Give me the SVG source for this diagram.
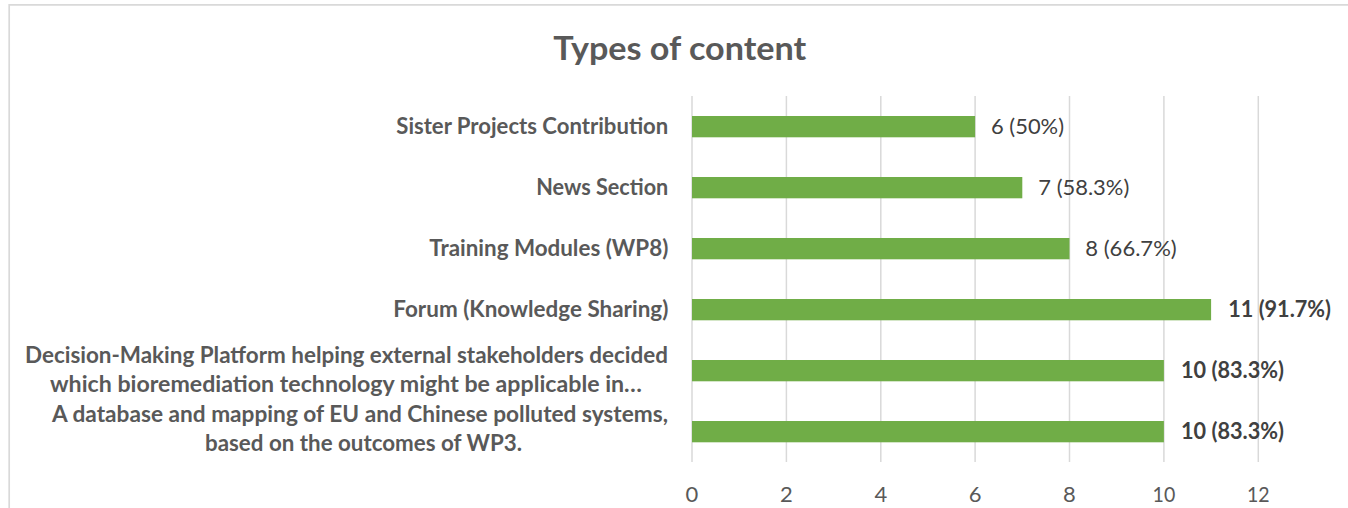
<svg xmlns="http://www.w3.org/2000/svg" width="1348" height="508" viewBox="0 0 1348 508">
  <style>
    .title { font-family: Lato, "Open Sans", "Liberation Sans", sans-serif; font-weight: bold; font-size: 32.5px; fill: #595959; }
    .cat { font-family: Lato, "Open Sans", "Liberation Sans", sans-serif; font-weight: bold; font-size: 22px; fill: #595959; }
    .val { font-family: Lato, "Open Sans", "Liberation Sans", sans-serif; font-size: 22px; fill: #404040; }
    .valb { font-family: Lato, "Open Sans", "Liberation Sans", sans-serif; font-weight: bold; font-size: 22px; fill: #404040; }
    .tick { font-family: Lato, "Open Sans", "Liberation Sans", sans-serif; font-size: 22px; fill: #595959; text-anchor: middle; }
    .grid { stroke: #d9d9d9; stroke-width: 1.5; }
    .bar { fill: #70ad47; }
  </style>
  <rect x="0" y="0" width="1348" height="508" fill="#ffffff"/>
  <path d="M9.2 508 V4.8 H1348" fill="none" stroke="#d9d9d9" stroke-width="1.7"/>

  <text class="title" x="553.3" y="60" textLength="253" lengthAdjust="spacingAndGlyphs">Types of content</text>

  <g id="gridlines">
    <line class="grid" x1="692" y1="96" x2="692" y2="462"/>
    <line class="grid" x1="786.4" y1="96" x2="786.4" y2="462"/>
    <line class="grid" x1="880.8" y1="96" x2="880.8" y2="462"/>
    <line class="grid" x1="975.1" y1="96" x2="975.1" y2="462"/>
    <line class="grid" x1="1069.5" y1="96" x2="1069.5" y2="462"/>
    <line class="grid" x1="1163.9" y1="96" x2="1163.9" y2="462"/>
    <line class="grid" x1="1258.3" y1="96" x2="1258.3" y2="462"/>
  </g>

  <g id="axis-labels">
    <text class="tick" x="692" y="501.7">0</text>
    <text class="tick" x="786.4" y="501.7">2</text>
    <text class="tick" x="880.8" y="501.7">4</text>
    <text class="tick" x="975.1" y="501.7">6</text>
    <text class="tick" x="1069.5" y="501.7">8</text>
    <text class="tick" x="1163.9" y="501.7" textLength="22.7" lengthAdjust="spacingAndGlyphs">10</text>
    <text class="tick" x="1258.3" y="501.7" textLength="22.7" lengthAdjust="spacingAndGlyphs">12</text>
  </g>

  <g id="sister-projects">
    <text class="cat" x="668.3" y="134.3" text-anchor="end" textLength="272" lengthAdjust="spacingAndGlyphs">Sister Projects Contribution</text>
    <rect class="bar" x="692" y="116" width="283.1" height="21.3"/>
    <text class="val" x="991" y="134.3" textLength="73" lengthAdjust="spacingAndGlyphs">6 (50%)</text>
  </g>

  <g id="news-section">
    <text class="cat" x="668.3" y="195.3" text-anchor="end" textLength="132" lengthAdjust="spacingAndGlyphs">News Section</text>
    <rect class="bar" x="692" y="177" width="330.3" height="21.3"/>
    <text class="val" x="1038.3" y="195.3" textLength="91" lengthAdjust="spacingAndGlyphs">7 (58.3%)</text>
  </g>

  <g id="training-modules">
    <text class="cat" x="668.3" y="256.3" text-anchor="end" textLength="239" lengthAdjust="spacingAndGlyphs">Training Modules (WP8)</text>
    <rect class="bar" x="692" y="238" width="377.5" height="21.3"/>
    <text class="val" x="1085.3" y="256.3" textLength="91.4" lengthAdjust="spacingAndGlyphs">8 (66.7%)</text>
  </g>

  <g id="forum">
    <text class="cat" x="668.3" y="317.3" text-anchor="end" textLength="275" lengthAdjust="spacingAndGlyphs">Forum (Knowledge Sharing)</text>
    <rect class="bar" x="692" y="299" width="519.1" height="21.3"/>
    <text class="valb" x="1228.3" y="317.3" textLength="102.7" lengthAdjust="spacingAndGlyphs">11 (91.7%)</text>
  </g>

  <g id="decision-making">
    <text class="cat" x="25" y="363" textLength="643" lengthAdjust="spacingAndGlyphs">Decision-Making Platform helping external stakeholders decided</text>
    <text class="cat" x="50" y="392.3" textLength="592" lengthAdjust="spacingAndGlyphs">which bioremediation technology might be applicable in…</text>
    <rect class="bar" x="692" y="360" width="471.9" height="21.3"/>
    <text class="valb" x="1181" y="378.3" textLength="103" lengthAdjust="spacingAndGlyphs">10 (83.3%)</text>
  </g>

  <g id="database-mapping">
    <text class="cat" x="52" y="421.7" textLength="616" lengthAdjust="spacingAndGlyphs">A database and mapping of EU and Chinese polluted systems,</text>
    <text class="cat" x="205" y="451" textLength="317" lengthAdjust="spacingAndGlyphs">based on the outcomes of WP3.</text>
    <rect class="bar" x="692" y="421" width="471.9" height="21.3"/>
    <text class="valb" x="1181" y="439.3" textLength="103" lengthAdjust="spacingAndGlyphs">10 (83.3%)</text>
  </g>

  <g id="connectors"></g>
</svg>
